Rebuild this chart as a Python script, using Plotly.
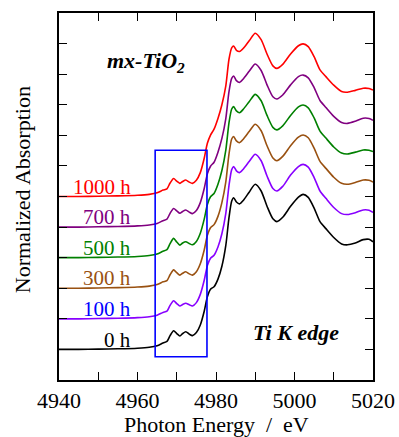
import plotly.graph_objects as go

# Photon energy grid (eV)
energy = [4940, 4945, 4950, 4955, 4960, 4963, 4965, 4966.5, 4967.5, 4968.3,
          4969.2, 4970.0, 4970.8, 4971.5, 4972.3, 4973.2, 4974.0, 4975.0, 4976.0, 4977.0,
          4977.8, 4978.6, 4979.5, 4980.5, 4981.5, 4982.5, 4983.3, 4984.0, 4984.5, 4985.2,
          4986.0, 4987.0, 4988.5, 4990.0, 4991.5, 4993.0, 4994.5, 4995.5, 4997.0, 4999.0,
          5001.0, 5002.2, 5003.5, 5005.0, 5006.5, 5008.0, 5010.0, 5012.0, 5013.5, 5015.5,
          5017.5, 5019.0, 5020.0]

# Normalized absorption of each sample (before vertical stacking)
abs_0h = [0.00, 0.00, 0.01, 0.02, 0.04, 0.07, 0.12, 0.21, 0.26, 0.45,
          0.61, 0.52, 0.44, 0.52, 0.58, 0.50, 0.45, 0.55, 0.80, 1.25,
          1.72, 1.97, 2.05, 2.30, 2.72, 3.40, 4.30, 4.85, 4.96, 4.82,
          4.76, 4.88, 5.15, 5.40, 5.18, 4.68, 4.27, 4.18, 4.32, 4.68,
          4.98, 5.07, 4.97, 4.62, 4.18, 3.95, 3.66, 3.45, 3.42, 3.48,
          3.59, 3.60, 3.52]
abs_100h = [0.00, 0.00, 0.01, 0.02, 0.04, 0.07, 0.12, 0.21, 0.25, 0.44,
            0.59, 0.50, 0.42, 0.47, 0.51, 0.46, 0.42, 0.53, 0.80, 1.26,
            1.74, 1.98, 2.08, 2.35, 2.78, 3.45, 4.35, 4.88, 4.98, 4.84,
            4.78, 4.90, 5.15, 5.38, 5.17, 4.67, 4.26, 4.18, 4.33, 4.70,
            4.98, 5.05, 4.96, 4.62, 4.18, 3.94, 3.64, 3.44, 3.41, 3.47,
            3.56, 3.55, 3.48]
abs_300h = [0.00, 0.00, 0.01, 0.02, 0.04, 0.07, 0.12, 0.21, 0.25, 0.44,
            0.60, 0.51, 0.43, 0.49, 0.54, 0.47, 0.43, 0.54, 0.80, 1.25,
            1.73, 1.98, 2.08, 2.35, 2.80, 3.48, 4.38, 4.88, 4.96, 4.82,
            4.76, 4.88, 5.13, 5.36, 5.15, 4.66, 4.26, 4.17, 4.31, 4.66,
            4.94, 5.01, 4.92, 4.58, 4.15, 3.92, 3.63, 3.43, 3.40, 3.46,
            3.54, 3.53, 3.47]
abs_500h = [0.00, 0.00, 0.01, 0.02, 0.04, 0.07, 0.12, 0.21, 0.26, 0.46,
            0.63, 0.51, 0.41, 0.48, 0.52, 0.46, 0.42, 0.53, 0.80, 1.26,
            1.74, 1.99, 2.10, 2.40, 2.85, 3.52, 4.40, 4.86, 4.94, 4.80,
            4.74, 4.86, 5.11, 5.34, 5.13, 4.65, 4.26, 4.18, 4.31, 4.65,
            4.93, 4.99, 4.90, 4.57, 4.14, 3.91, 3.62, 3.42, 3.39, 3.45,
            3.52, 3.51, 3.47]
abs_700h = [0.00, 0.00, 0.01, 0.02, 0.04, 0.07, 0.12, 0.21, 0.26, 0.45,
            0.61, 0.53, 0.45, 0.51, 0.56, 0.49, 0.44, 0.54, 0.80, 1.26,
            1.74, 1.99, 2.12, 2.45, 2.90, 3.55, 4.42, 4.86, 4.94, 4.79,
            4.73, 4.85, 5.10, 5.33, 5.12, 4.65, 4.26, 4.19, 4.32, 4.65,
            4.92, 4.97, 4.88, 4.56, 4.14, 3.91, 3.62, 3.42, 3.39, 3.46,
            3.56, 3.55, 3.49]
abs_1000h = [0.00, 0.00, 0.01, 0.02, 0.04, 0.07, 0.12, 0.21, 0.25, 0.44,
             0.59, 0.50, 0.43, 0.49, 0.54, 0.47, 0.43, 0.53, 0.78, 1.25,
             1.74, 2.01, 2.20, 2.55, 3.00, 3.62, 4.48, 4.86, 4.92, 4.78,
             4.74, 4.85, 5.10, 5.34, 5.13, 4.66, 4.27, 4.19, 4.32, 4.66,
             4.93, 4.99, 4.90, 4.57, 4.14, 3.92, 3.64, 3.43, 3.41, 3.47,
             3.54, 3.53, 3.48]

sample_labels = ["0 h", "100 h", "300 h", "500 h", "700 h", "1000 h"]
sample_spectra = [abs_0h, abs_100h, abs_300h, abs_500h, abs_700h, abs_1000h]
stack_offsets = [1, 2, 3, 4, 5, 6]
line_colors = ["#000000", "#8800ff", "#995111", "#008000", "#800080", "#ff0000"]
label_colors = ["#000000", "#0000ff", "#995111", "#008000", "#800080", "#ff0000"]

# Pre-edge region highlighted with a frame (eV, stacked absorption units)
box_energy = [4964.5, 4977.7]
box_absorption = [0.76, 7.51]

SERIF = "Liberation Serif"

fig = go.Figure()

for spec, off, col in zip(sample_spectra, stack_offsets, line_colors):
    fig.add_trace(go.Scatter(
        x=energy, y=[v + off for v in spec], mode="lines",
        line=dict(color=col, width=1.6, shape="spline", smoothing=0.7),
        hoverinfo="skip", showlegend=False,
    ))

for lab, off, col in zip(sample_labels, stack_offsets, label_colors):
    fig.add_annotation(
        x=4958.8, y=off + 0.32, xref="x", yref="y", text=lab,
        showarrow=False, xanchor="right", yanchor="middle",
        font=dict(family=SERIF, size=21, color=col),
    )

fig.add_shape(
    type="rect", xref="x", yref="y",
    x0=box_energy[0], x1=box_energy[1], y0=box_absorption[0], y1=box_absorption[1],
    line=dict(color="#0000ff", width=1.6), fillcolor="rgba(0,0,0,0)",
)

fig.add_annotation(
    x=4962.1, y=10.4, xref="x", yref="y", text="<b><i>mx-TiO<sub>2</sub></i></b>",
    showarrow=False, xanchor="center", yanchor="middle",
    font=dict(family=SERIF, size=22, color="black"),
)
fig.add_annotation(
    x=5000.5, y=1.54, xref="x", yref="y", text="<b><i>Ti K edge</i></b>",
    showarrow=False, xanchor="center", yanchor="middle",
    font=dict(family=SERIF, size=22, color="black"),
)

# Axis titles
fig.add_annotation(
    x=-0.1135, y=0.518, xref="paper", yref="paper", text="Normalized Absorption",
    textangle=-90, showarrow=False, xanchor="center", yanchor="middle",
    font=dict(family=SERIF, size=22, color="black"),
)
fig.add_annotation(
    x=0.5, y=-0.12, xref="paper", yref="paper",
    text="Photon Energy\u00a0\u00a0/\u00a0\u00a0eV",
    showarrow=False, xanchor="center", yanchor="middle",
    font=dict(family=SERIF, size=22, color="black"),
)

fig.update_xaxes(
    range=[4940, 5020], tick0=4940, dtick=20,
    ticks="inside", ticklen=8, tickwidth=1.3, tickcolor="black",
    minor=dict(dtick=10, ticks="inside", ticklen=8, tickwidth=1.3, tickcolor="black",
               showgrid=False),
    showline=True, linewidth=1.5, linecolor="black", mirror="allticks",
    showgrid=False, zeroline=False, automargin=False,
    tickfont=dict(family=SERIF, size=22, color="black"),
)
fig.update_yaxes(
    range=[0, 12], tick0=0, dtick=1, showticklabels=False,
    ticks="inside", ticklen=8, tickwidth=1.3, tickcolor="black",
    showline=True, linewidth=1.5, linecolor="black", mirror="allticks",
    showgrid=False, zeroline=False, automargin=False,
)

fig.update_layout(
    width=399, height=437,
    margin=dict(l=58.7, r=25.7, t=13, b=57, pad=0),
    plot_bgcolor="white", paper_bgcolor="white",
    font=dict(family=SERIF, color="black"),
    showlegend=False,
)

fig.write_html("out.html")
